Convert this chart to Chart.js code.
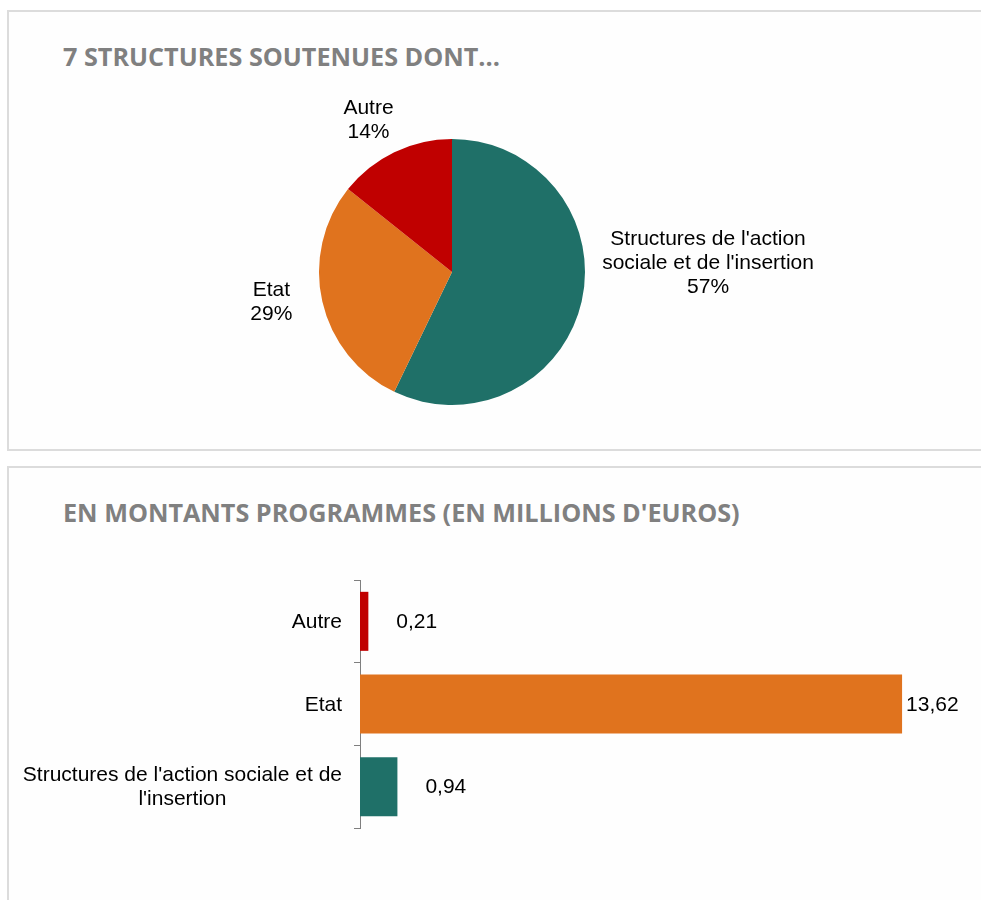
<!DOCTYPE html>
<html>
<head>
<meta charset="utf-8">
<script src="https://cdn.jsdelivr.net/npm/chart.js@4.4.1/dist/chart.umd.min.js"></script>
<style>
  html, body { margin: 0; padding: 0; background: #ffffff; width: 981px; height: 900px; overflow: hidden; }
  .panel { position: absolute; left: 7px; width: 1000px; border: 2px solid #dcdcdc; background: #fefefe; box-sizing: border-box; }
  .title { position: absolute; left: 63px; font-family: "Open Sans", sans-serif; font-weight: 700; font-size: 25.2px; line-height: 34px; color: #808080; white-space: nowrap; }
  canvas { position: absolute; left: 0; top: 0; }
</style>
</head>
<body>
<div class="panel" style="top:10px;height:441px;"></div>
<div class="panel" style="top:466px;height:460px;"></div>
<div class="title" id="t1" style="top:39px;">7 STRUCTURES SOUTENUES DONT...</div>
<div class="title" id="t2" style="top:495px;">EN MONTANTS PROGRAMMES (EN MILLIONS D'EUROS)</div>
<canvas id="pie" width="981" height="900"></canvas>
<canvas id="bar" width="981" height="900"></canvas>
<script>
// ---- Data ----
const pieCategories = ["Structures de l'action sociale et de l'insertion", "Etat", "Autre"];
const pieLabelLines = [["Structures de l'action", "sociale et de l'insertion"], ["Etat"], ["Autre"]];
const pieCounts = [4, 2, 1];

const barCategories = ["Autre", "Etat", "Structures de l'action sociale et de l'insertion"];
const barLabelLines = [["Autre"], ["Etat"], ["Structures de l'action sociale et de", "l'insertion"]];
const barValues = [0.21, 13.62, 0.94];
const barValueLabels = ["0,21", "13,62", "0,94"];

// ---- Styles ----
const TEAL = '#1f7068', ORANGE = '#e0731e', RED = '#c00000';
const pieColors = [TEAL, ORANGE, RED];
const barColors = [RED, ORANGE, TEAL];
const FONT = '"Liberation Sans", Arial, sans-serif';
const LABEL_FONT = '21px ' + FONT;

const pieLabelPlugin = {
  id: 'pieLabels',
  afterDatasetsDraw(chart) {
    const ctx = chart.ctx;
    const meta = chart.getDatasetMeta(0);
    const total = pieCounts.reduce((a, b) => a + b, 0);
    ctx.save();
    ctx.font = LABEL_FONT;
    ctx.fillStyle = '#000';
    ctx.textAlign = 'center';
    ctx.textBaseline = 'middle';
    const lh = 24;
    meta.data.forEach((arc, i) => {
      const p = arc.getProps(['x', 'y', 'startAngle', 'endAngle', 'outerRadius'], true);
      const frac = (p.endAngle - p.startAngle) / (2 * Math.PI);
      const dominant = frac > 0.5;
      let mid = (p.startAngle + p.endAngle) / 2;
      if (dominant) mid = Math.cos(mid) > 0 ? -0.04 : Math.PI + 0.04;
      const lines = pieLabelLines[i].concat([Math.round(pieCounts[i] / total * 100) + '%']);
      const w = Math.max(...lines.map(l => ctx.measureText(l).width));
      const h = lines.length * lh;
      const dist = p.outerRadius + 16 + Math.abs(Math.cos(mid)) * w / 2 + Math.abs(Math.sin(mid)) * h / 2;
      const cx = p.x + dist * Math.cos(mid) * (dominant ? 1 : 1.06);
      const cy = p.y + dist * Math.sin(mid) * (dominant ? 1 : 0.9) - (dominant ? 0 : 6);
      lines.forEach((l, k) => {
        ctx.fillText(l, cx, cy - h / 2 + lh / 2 + k * lh + 1);
      });
    });
    ctx.restore();
  }
};

new Chart(document.getElementById('pie'), {
  type: 'pie',
  data: {
    labels: pieCategories,
    datasets: [{ data: pieCounts, backgroundColor: pieColors, borderWidth: 0 }]
  },
  options: {
    responsive: false,
    animation: false,
    layout: { padding: { left: 319, right: 396, top: 139, bottom: 495 } },
    plugins: { legend: { display: false }, tooltip: { enabled: false } }
  },
  plugins: [pieLabelPlugin]
});

const barPlugin = {
  id: 'barLabels',
  afterDatasetsDraw(chart) {
    const ctx = chart.ctx;
    const meta = chart.getDatasetMeta(0);
    const yScale = chart.scales.y;
    ctx.save();
    ctx.font = LABEL_FONT;
    ctx.fillStyle = '#000';
    ctx.textBaseline = 'middle';
    // value labels
    ctx.textAlign = 'left';
    meta.data.forEach((bar, i) => {
      const off = (bar.x - chart.chartArea.left) < 60 ? 28 : 4;
      ctx.fillText(barValueLabels[i], bar.x + off, bar.y + 1);
    });
    // category labels (block right-aligned, lines centered)
    ctx.textAlign = 'center';
    const lh = 24;
    barLabelLines.forEach((lines, i) => {
      const w = Math.max(...lines.map(l => ctx.measureText(l).width));
      const right = chart.chartArea.left - 18;
      const cx = right - w / 2;
      const cy = yScale.getPixelForValue(i);
      lines.forEach((l, k) => {
        ctx.fillText(l, cx, cy - (lines.length * lh) / 2 + lh / 2 + k * lh + 1);
      });
    });
    ctx.restore();
  }
};

new Chart(document.getElementById('bar'), {
  type: 'bar',
  data: {
    labels: barCategories,
    datasets: [{ data: barValues, backgroundColor: barColors, borderWidth: 0, barPercentage: 0.714, categoryPercentage: 1 }]
  },
  options: {
    indexAxis: 'y',
    responsive: false,
    animation: false,
    layout: { padding: { left: 0, right: 24, top: 580, bottom: 72 } },
    plugins: { legend: { display: false }, tooltip: { enabled: false } },
    scales: {
      x: { display: false, min: 0, max: 15 },
      y: {
        offset: true,
        afterFit(s) { s.width = 360; },
        ticks: { display: false },
        grid: { offset: true, drawOnChartArea: false, drawTicks: true, tickLength: 6, color: '#7f7f7f', lineWidth: 1 },
        border: { display: true, color: '#7f7f7f', width: 1 }
      }
    }
  },
  plugins: [barPlugin]
});
</script>
</body>
</html>
